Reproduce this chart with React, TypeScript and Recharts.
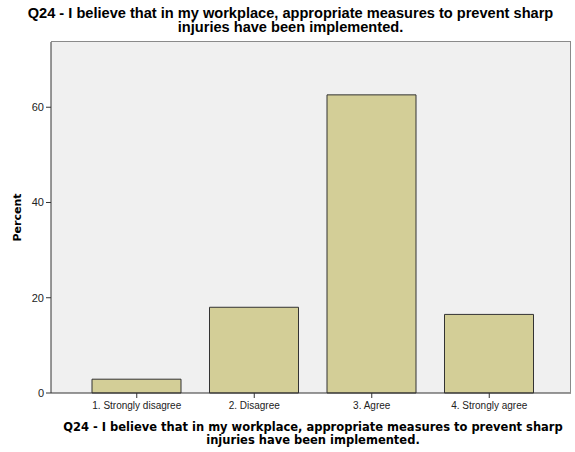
import { BarChart, Bar, XAxis, YAxis, CartesianGrid } from 'recharts';

const categories = ['1. Strongly disagree', '2. Disagree', '3. Agree', '4. Strongly agree'];
const percents = [2.9, 18.0, 62.6, 16.5];
const yTicks = [0, 20, 40, 60];
const titleLines = [
  'Q24 - I believe that in my workplace, appropriate measures to prevent sharp',
  'injuries have been implemented.',
];

const data = categories.map((name, i) => ({ name, percent: percents[i] }));

const FONT = '"Liberation Sans", Arial, sans-serif';
const FONT_WIDE = '"DejaVu Sans", Verdana, sans-serif';

function XTitle({ viewBox }: any) {
  const cx = viewBox.x + viewBox.width / 2 + 2;
  return (
    <text x={cx} y={viewBox.y + 38} textAnchor="middle" fontFamily={FONT_WIDE} fontWeight="bold" fontSize={11.5} fill="#000">
      {titleLines.map((t, i) => (
        <tspan key={i} x={cx} dy={i === 0 ? 0 : 13}>{t}</tspan>
      ))}
    </text>
  );
}

function YTitle({ viewBox }: any) {
  const x = 21;
  const y = viewBox.y + viewBox.height / 2;
  return (
    <text x={x} y={y} transform={`rotate(-90 ${x} ${y})`} textAnchor="middle" fontFamily={FONT_WIDE} fontWeight="bold" fontSize={11} fill="#000">
      Percent
    </text>
  );
}

export default function App() {
  return (
    <div style={{ position: 'absolute', left: 0, top: 0, width: 575, height: 452, background: '#fff', fontFamily: FONT }}>
      <div style={{ position: 'absolute', left: 3, top: 7, width: 575, textAlign: 'center', fontWeight: 'bold', fontSize: 14.6, lineHeight: '13.5px' }}>
        {titleLines.map((t, i) => <div key={i}>{t}</div>)}
      </div>
      <BarChart width={575} height={452} data={data} margin={{ top: 42, right: 4, left: 0, bottom: 0 }} barCategoryGap={0}>
        <CartesianGrid horizontal={false} vertical={false} fill="#f0f0f0" />
        <XAxis
          dataKey="name"
          height={59}
          padding={{ left: 27, right: 23 }}
          tickSize={5}
          tickMargin={4}
          tick={{ fontSize: 10, fill: '#222', fontFamily: FONT }}
          axisLine={{ stroke: '#333' }}
          tickLine={{ stroke: '#333' }}
          interval={0}
          label={<XTitle />}
        />
        <YAxis
          width={51}
          domain={[0, 73.7]}
          ticks={yTicks}
          tickSize={5}
          tickMargin={2}
          tick={{ fontSize: 11, fill: '#222', fontFamily: FONT }}
          axisLine={{ stroke: '#333' }}
          tickLine={{ stroke: '#333' }}
          label={<YTitle />}
        />
        <Bar dataKey="percent" barSize={89} fill="#d3ce97" stroke="#333" strokeWidth={1} isAnimationActive={false} />
      </BarChart>
      {/* plot frame: top and right edges */}
      <div style={{ position: 'absolute', left: 51, top: 41, width: 520, height: 352, borderTop: '1px solid #8a8a8a', borderRight: '1px solid #8a8a8a', boxSizing: 'border-box', pointerEvents: 'none' }} />
    </div>
  );
}
